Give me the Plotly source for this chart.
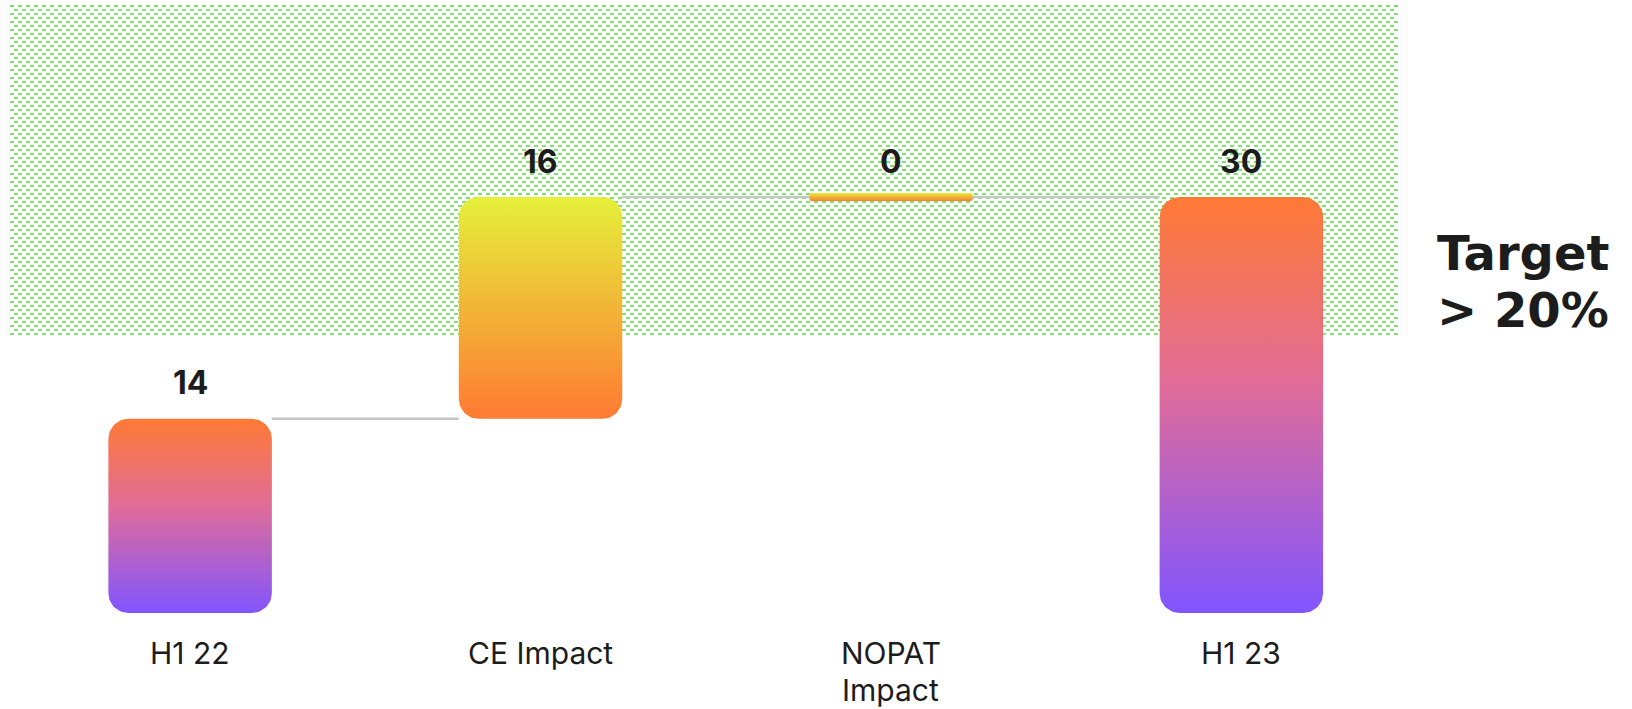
import base64
import numpy as np
import plotly.graph_objects as go

# ---- data -------------------------------------------------------------
categories = ["H1 22", "CE Impact", "NOPAT Impact", "H1 23"]
tick_labels = ["H1 22", "CE Impact", "NOPAT<br>Impact", "H1 23"]
values = [14, 16, 0, 30]
measures = ["absolute", "relative", "relative", "total"]
target = 20
target_label = "Target<br>> 20%"

# vertical gradient per bar (bottom -> top)
bar_gradients = [
    [[0, "#8155FF"], [0.55, "#E06C98"], [1, "#FF7A35"]],
    [[0, "#FF7A33"], [1, "#E5F03A"]],
    [[0, "#FF7A33"], [1, "#E5F03A"]],
    [[0, "#8155FF"], [0.55, "#E06C98"], [1, "#FF7A35"]],
]

# ---- layout geometry --------------------------------------------------
W, H = 1632, 709
M_L, M_R, M_T, M_B = 10, 234, 5, 96
PLOT_W = W - M_L - M_R
PLOT_H = H - M_T - M_B
X_RANGE = [-0.514, 3.447]
Y_RANGE = [0, 43.846]
PX_X = PLOT_W / (X_RANGE[1] - X_RANGE[0])
PX_Y = PLOT_H / (Y_RANGE[1] - Y_RANGE[0])

BAR_W_PX = 163.5
CORNER_PX = 20
ZERO_BAR_PX = 8
HALF_W = BAR_W_PX / 2 / PX_X
TEXT_COLOR = "#1C1C1C"

# ---- waterfall levels -------------------------------------------------
bases, tops = [], []
running = 0
for v, m in zip(values, measures):
    if m == "absolute":
        b, t = 0, v
        running = v
    elif m == "relative":
        b, t = running, running + v
        running = t
    else:
        b, t = 0, running
    bases.append(b)
    tops.append(t)


def rounded_bar(xc, y0, y1):
    """Outline of a rounded bar, built in pixel units then mapped to data units."""
    h_px = (y1 - y0) * PX_Y
    if h_px < ZERO_BAR_PX:
        mid = (y0 + y1) / 2
        y0 = mid - ZERO_BAR_PX / 2 / PX_Y
        h_px = ZERO_BAR_PX
        r = 2
    else:
        r = min(CORNER_PX, BAR_W_PX / 2, h_px / 2)
    hw = BAR_W_PX / 2
    centers = [(hw - r, r, -90), (hw - r, h_px - r, 0),
               (-hw + r, h_px - r, 90), (-hw + r, r, 180)]
    px, py = [], []
    for cx, cy, a0 in centers:
        ang = np.radians(np.linspace(a0, a0 + 90, 16))
        px.extend(cx + r * np.cos(ang))
        py.extend(cy + r * np.sin(ang))
    px.append(px[0])
    py.append(py[0])
    xs = xc + np.array(px) / PX_X
    ys = y0 + np.array(py) / PX_Y
    return xs, ys


fig = go.Figure()

# connectors between consecutive bars
for i in range(len(categories) - 1):
    level = tops[i]
    fig.add_trace(go.Scatter(
        x=[i + HALF_W, i + 1 - HALF_W], y=[level, level],
        mode="lines", line=dict(color="#C6C6C6", width=2.5),
        hoverinfo="skip", showlegend=False))

# gradient bars
for i, cat in enumerate(categories):
    xs, ys = rounded_bar(i, bases[i], tops[i])
    fig.add_trace(go.Scatter(
        x=xs, y=ys, mode="lines", fill="toself",
        line=dict(width=0, color="rgba(0,0,0,0)"),
        fillgradient=dict(type="vertical", colorscale=bar_gradients[i]),
        name=cat, hoverinfo="skip", showlegend=False))

# value labels above bars
for i, v in enumerate(values):
    fig.add_annotation(
        x=i, y=tops[i], text=f"<b>{v}</b>", showarrow=False,
        yanchor="middle", yshift=36,
        font=dict(family="Inter", size=32, color=TEXT_COLOR))

# category labels below bars, one annotation per text line
CAT_FIRST_LINE = 40
CAT_LINE_GAP = 36.6
for i, lab in enumerate(tick_labels):
    for k, line in enumerate(lab.split("<br>")):
        fig.add_annotation(
            x=i, y=0, text=line, showarrow=False, borderpad=0,
            yanchor="middle", yshift=-(CAT_FIRST_LINE + k * CAT_LINE_GAP),
            font=dict(family="Inter", size=30, color=TEXT_COLOR))

# target label, left aligned to the right of the plot
TARGET_LINE_PX = [253, 310]
for k, line in enumerate(target_label.split("<br>")):
    fig.add_annotation(
        xref="paper", yref="paper",
        x=(1435 - M_L) / PLOT_W, y=1 - (TARGET_LINE_PX[k] - M_T) / PLOT_H,
        xanchor="left", yanchor="middle", align="left",
        text=f"<b>{line}</b>", showarrow=False,
        font=dict(family="DejaVu Sans", size=48, color=TEXT_COLOR))

# dashed green texture marking the zone above the target
zone_h = int(round((Y_RANGE[1] - target) * PX_Y))
svg = (
    f'<svg xmlns="http://www.w3.org/2000/svg" width="{PLOT_W}" height="{zone_h}" '
    f'viewBox="0 0 {PLOT_W} {zone_h}" preserveAspectRatio="none" shape-rendering="crispEdges">'
    '<defs><pattern id="d" width="8" height="8" patternUnits="userSpaceOnUse">'
    '<rect x="0" y="0" width="4" height="2" fill="#7DE36A"/>'
    '<rect x="4" y="4" width="4" height="2" fill="#7DE36A"/>'
    '</pattern></defs>'
    '<rect x="0" y="0" width="100%" height="100%" fill="url(#d)"/></svg>'
)
fig.add_layout_image(
    source="data:image/svg+xml;base64," + base64.b64encode(svg.encode()).decode(),
    xref="paper", yref="y", x=0, y=Y_RANGE[1], sizex=1, sizey=zone_h / PX_Y,
    xanchor="left", yanchor="top", sizing="stretch", layer="below")

fig.update_layout(
    width=W, height=H,
    margin=dict(l=M_L, r=M_R, t=M_T, b=M_B),
    paper_bgcolor="white", plot_bgcolor="white",
    xaxis=dict(range=X_RANGE, visible=False, fixedrange=True),
    yaxis=dict(range=Y_RANGE, visible=False, fixedrange=True),
)

fig.write_html("out.html")
